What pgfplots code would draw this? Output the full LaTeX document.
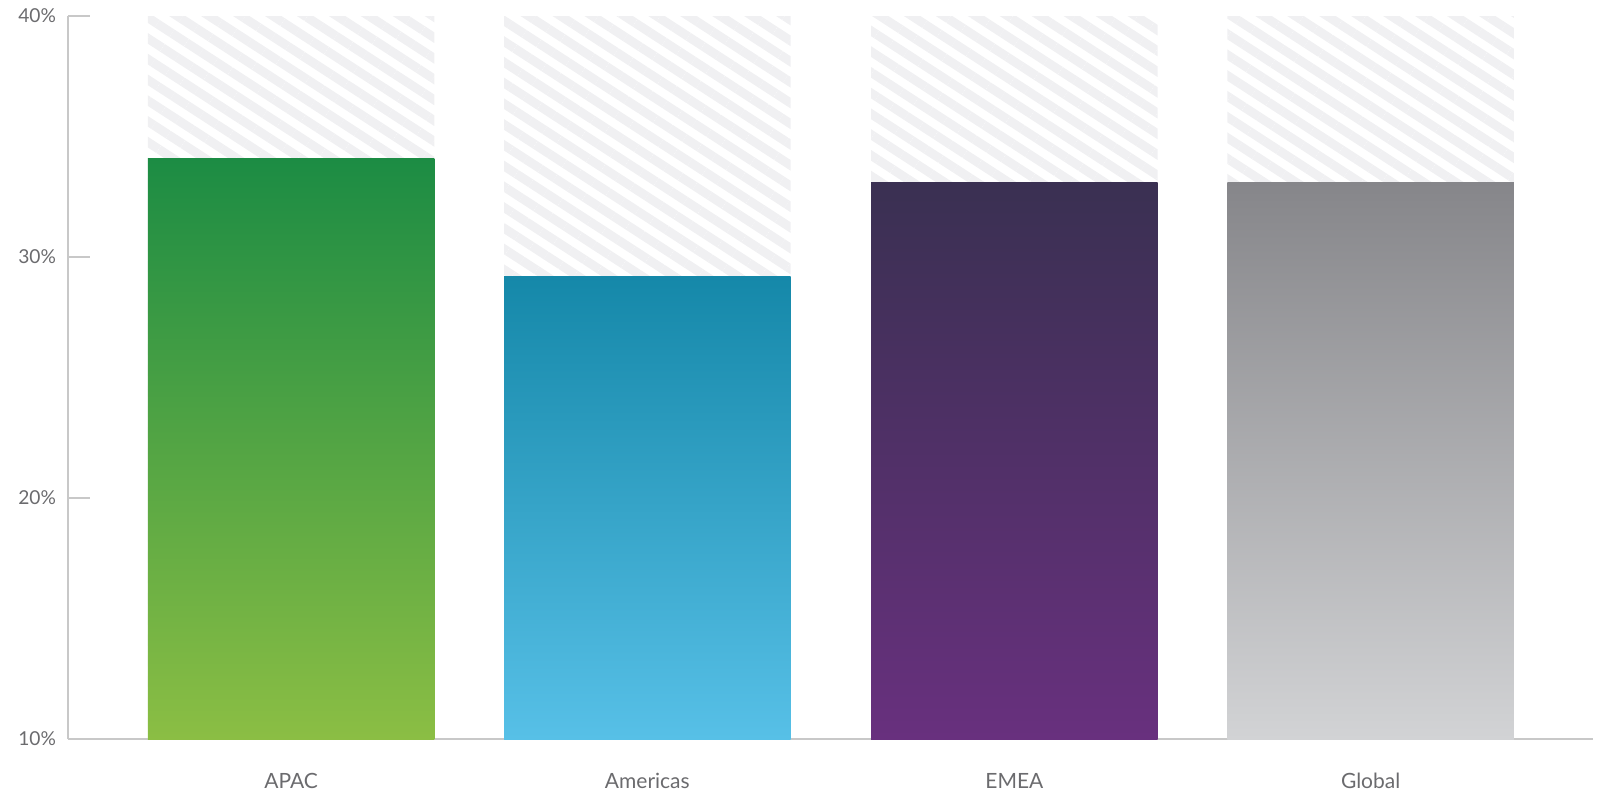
\documentclass[border=0pt]{standalone}
\usepackage{pgfplots}
\pgfplotsset{compat=1.18}
\usepackage{fontspec}
\setmainfont{Lato}
\usetikzlibrary{patterns.meta}
\definecolor{axisgray}{HTML}{C8C8C8}
\definecolor{txtgray}{HTML}{6B6B6E}
\definecolor{hatch}{HTML}{F0F0F2}
\definecolor{apacT}{HTML}{1C8C44}
\definecolor{apacB}{HTML}{8BBE44}
\definecolor{amerT}{HTML}{1588A9}
\definecolor{amerB}{HTML}{57C0E7}
\definecolor{emeaT}{HTML}{3A3052}
\definecolor{emeaB}{HTML}{68307E}
\definecolor{globT}{HTML}{86868A}
\definecolor{globB}{HTML}{D2D3D5}
\begin{document}
\begin{tikzpicture}
\begin{axis}[
  name=ax,
  scale only axis,
  width=762.5pt, height=361.5pt,
  xmin=-0.62, xmax=3.618,
  ymin=0, ymax=30,
  y filter/.expression={y-10},
  axis x line=bottom, axis y line=left,
  axis line style={-, axisgray, line width=0.8pt},
  xtick={0,0.99,2.01,3},
  xticklabels={APAC,Americas,EMEA,Global},
  x tick style={draw=none},
  ytick={0,10,20,30},
  yticklabels={10\%,20\%,30\%,40\%},
  y tick style={axisgray, line width=0.8pt},
  tick align=inside,
  major tick length=11pt,
  tick label style={text=txtgray},
  xticklabel style={font=\fontsize{10.5}{12}\selectfont, yshift=-13.5pt},
  yticklabel style={font=\fontsize{9.6}{11}\selectfont, xshift=-2.5pt},
  /pgf/number format/assume math mode=true,
  clip=true,
]
% hatched background up to 40%
\addplot[ybar, bar width=143.3pt, bar shift=0pt, draw=none,
  pattern={Lines[angle=-33, distance=8.7pt, line width=4.5pt]}, pattern color=hatch]
  coordinates {(0,40) (0.99,40) (2.01,40) (3,40)};
% values
\addplot[ybar, bar width=143.3pt, bar shift=0pt, draw=none,
  top color=apacT, bottom color=apacB] coordinates {(0,34.1)};
\addplot[ybar, bar width=143.3pt, bar shift=0pt, draw=none,
  top color=amerT, bottom color=amerB] coordinates {(0.99,29.2)};
\addplot[ybar, bar width=143.3pt, bar shift=0pt, draw=none,
  top color=emeaT, bottom color=emeaB] coordinates {(2.01,33.1)};
\addplot[ybar, bar width=143.3pt, bar shift=0pt, draw=none,
  top color=globT, bottom color=globB] coordinates {(3,33.1)};
\end{axis}
\pgfresetboundingbox
\path (ax.south west) ++(-34pt,-27pt) rectangle ++(799.5pt,396.5pt);
\end{tikzpicture}
\end{document}
